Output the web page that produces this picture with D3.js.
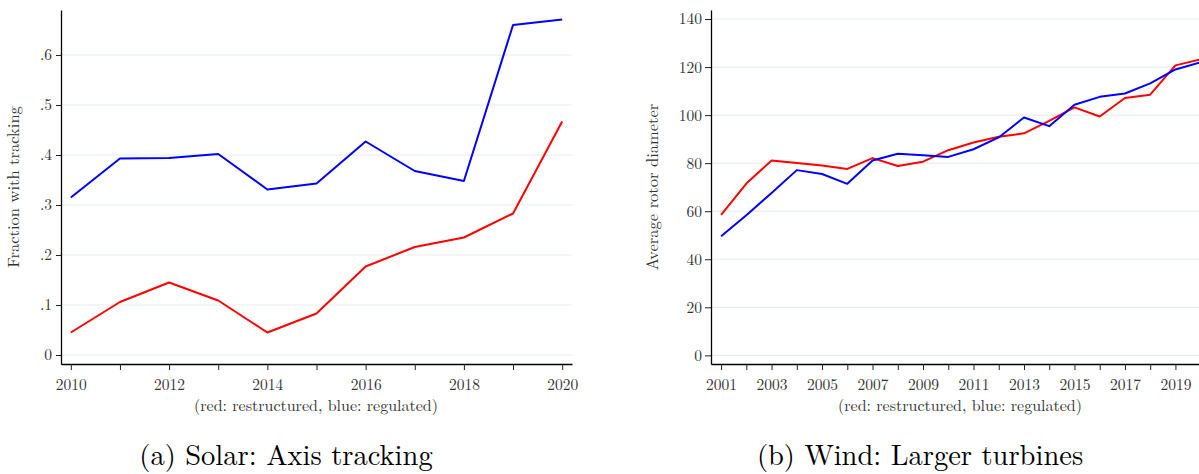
<!DOCTYPE html>
<html>
<head>
<meta charset="utf-8">
<script src="https://cdn.jsdelivr.net/npm/d3@7"></script>
<style>
  html, body { margin: 0; padding: 0; background: #fff; }
  svg { display: block; }
  text { font-family: "Latin Modern Roman", "Liberation Serif", serif; }
</style>
</head>
<body>
<svg id="chart" width="1199" height="474"></svg>
<script>
// ---- Panel (a): share of solar installations with axis tracking ----
const solarYears = [2010, 2011, 2012, 2013, 2014, 2015, 2016, 2017, 2018, 2019, 2020];
const solarRestructured = [0.045, 0.106, 0.145, 0.109, 0.045, 0.083, 0.177, 0.216, 0.235, 0.283, 0.467];
const solarRegulated    = [0.315, 0.393, 0.394, 0.402, 0.331, 0.343, 0.427, 0.368, 0.348, 0.660, 0.671];
const solarYTicks  = [0, 0.1, 0.2, 0.3, 0.4, 0.5, 0.6];
const solarYLabels = ["0", ".1", ".2", ".3", ".4", ".5", ".6"];
const solarXLabels = ["2010", "2012", "2014", "2016", "2018", "2020"];

// ---- Panel (b): average rotor diameter of wind turbines ----
const windYears = [2001, 2002, 2003, 2004, 2005, 2006, 2007, 2008, 2009, 2010,
                   2011, 2012, 2013, 2014, 2015, 2016, 2017, 2018, 2019, 2020];
const windRestructured = [58.5, 71.5, 81.1, 80.1, 79.0, 77.6, 82.1, 78.8, 80.6, 85.4,
                          88.6, 91.0, 92.4, 97.6, 103.2, 99.4, 107.1, 108.5, 120.7, 123.2];
const windRegulated    = [49.6, 58.3, 67.6, 77.1, 75.5, 71.4, 81.1, 83.9, 83.3, 82.6,
                          85.8, 90.7, 99.0, 95.4, 104.3, 107.6, 109.0, 113.2, 119.0, 122.0];
const windYTicks  = [0, 20, 40, 60, 80, 100, 120, 140];
const windYLabels = ["0", "20", "40", "60", "80", "100", "120", "140"];
const windXLabels = ["2001", "2003", "2005", "2007", "2009", "2011", "2013", "2015", "2017", "2019"];

const xTitle = "(red: restructured, blue: regulated)";

const FONT = '"Latin Modern Roman", "Liberation Serif", serif';
const svg = d3.select("#chart");

function drawPanel(cfg) {
  const g = svg.append("g");

  const x = d3.scaleLinear().domain(cfg.xDomain).range(cfg.xRange);
  const y = d3.scaleLinear().domain(cfg.yDomain).range(cfg.yRange);

  // horizontal gridlines
  g.append("g").selectAll("line").data(cfg.yTicks).join("line")
    .attr("x1", cfg.xRange[0] + 1).attr("x2", cfg.xRange[1])
    .attr("y1", d => y(d)).attr("y2", d => y(d))
    .attr("stroke", "#e6eef0").attr("stroke-width", 1.2);

  // y axis
  const yAxis = d3.axisLeft(y).tickValues(cfg.yTicks)
    .tickFormat((d, i) => cfg.yLabels[i])
    .tickSize(cfg.yTickSize).tickSizeOuter(0).tickPadding(cfg.yPad);
  const ya = g.append("g").attr("transform", `translate(${cfg.xRange[0]},0)`).call(yAxis);

  // x axis: a tick each year, labels on the labelled years only
  const xAxis = d3.axisBottom(x).tickValues(cfg.years)
    .tickFormat(d => cfg.xLabels.includes(String(d)) ? String(d) : "")
    .tickSize(6).tickSizeOuter(0).tickPadding(9);
  const xa = g.append("g").attr("transform", `translate(0,${cfg.yRange[0]})`).call(xAxis);
  xa.selectAll(".tick text").filter(function () { return this.textContent === ""; }).remove();

  [ya, xa].forEach(a => {
    a.attr("font-family", FONT).attr("font-size", 15.5);
    a.select(".domain").attr("stroke", "#000").attr("stroke-width", 1.3);
    a.selectAll(".tick line").attr("stroke", "#222").attr("stroke-width", 1);
    a.selectAll(".tick text").attr("fill", "#333");
  });

  // series lines
  const line = (vals) => d3.line().x((d, i) => x(cfg.years[i])).y(d => y(d))(vals);
  g.append("path").attr("d", line(cfg.restructured))
    .attr("fill", "none").attr("stroke", "#ff0000").attr("stroke-width", 2)
    .attr("stroke-linejoin", "round");
  g.append("path").attr("d", line(cfg.regulated))
    .attr("fill", "none").attr("stroke", "#0000ff").attr("stroke-width", 2)
    .attr("stroke-linejoin", "round");

  // axis titles
  g.append("text").attr("x", cfg.xTitleX).attr("y", 411)
    .attr("text-anchor", "middle").attr("fill", "#333").style("font-size", "16px")
    .text(xTitle);
  g.append("text")
    .attr("transform", `translate(${cfg.yTitleX},${(cfg.yRange[0] + cfg.yRange[1]) / 2}) rotate(-90)`)
    .attr("text-anchor", "middle").attr("fill", "#333").style("font-size", "16.5px")
    .text(cfg.yTitle);

  // panel caption
  svg.append("text").attr("x", cfg.captionX).attr("y", 465)
    .attr("text-anchor", "middle").attr("fill", "#000").style("font-size", "28.5px")
    .text(cfg.caption);
}

drawPanel({
  id: "solar",
  years: solarYears, restructured: solarRestructured, regulated: solarRegulated,
  xDomain: [2009.8, 2020.2], xRange: [61, 572],
  yDomain: [-0.018, 0.69], yRange: [364, 10],
  yTicks: solarYTicks, yLabels: solarYLabels, xLabels: solarXLabels,
  yTickSize: 5, yPad: 4,
  yTitle: "Fraction with tracking", yTitleX: 19, xTitleX: 316,
  caption: "(a) Solar: Axis tracking", captionX: 286
});

drawPanel({
  id: "wind",
  years: windYears, restructured: windRestructured, regulated: windRegulated,
  xDomain: [2000.6, 2020.33], xRange: [711, 1209],
  yDomain: [-3.6, 143.75], yRange: [364, 10],
  yTicks: windYTicks, yLabels: windYLabels, xLabels: windXLabels,
  yTickSize: 6, yPad: 3,
  yTitle: "Average rotor diameter", yTitleX: 658, xTitleX: 960,
  caption: "(b) Wind: Larger turbines", captionX: 920
});
</script>
</body>
</html>
